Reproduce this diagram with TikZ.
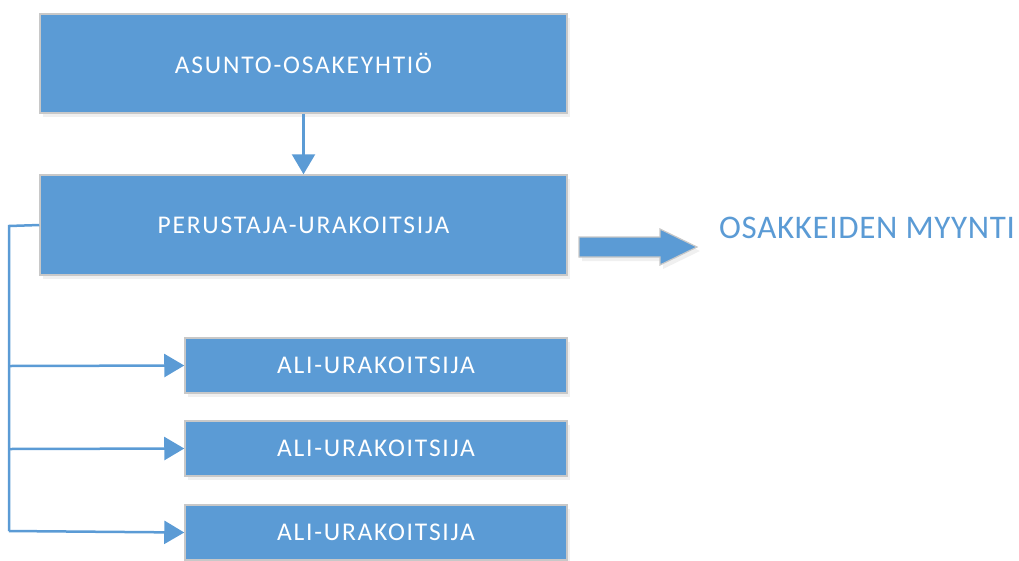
\documentclass[tikz,border=0pt]{standalone}
\usepackage{fontspec}
\setmainfont{Carlito}
\newfontfamily\boxfont[LetterSpace=7]{Carlito}
\newfontfamily\sidefont[LetterSpace=2]{Carlito}
\usetikzlibrary{arrows.meta,shadows}
\definecolor{boxblue}{HTML}{5B9BD5}
\definecolor{boxedge}{HTML}{C8C8C8}
\tikzset{
  box/.style={draw=boxedge, line width=1.5pt, fill=boxblue, text=white, font=\boxfont\fontsize{25.5}{28}\selectfont,
    drop shadow={opacity=0.12, shadow xshift=3pt, shadow yshift=-4pt}, inner sep=0pt},
  conn/.style={draw=boxblue, line width=2.5pt, -{Triangle[length=20pt,width=23pt]}},
  plain/.style={draw=boxblue, line width=2.5pt},
  fatarrow/.style={draw=boxedge, line width=1.2pt, fill=boxblue,
    drop shadow={opacity=0.12, shadow xshift=3pt, shadow yshift=-4pt}},
}
\begin{document}
\begin{tikzpicture}[x=1pt,y=-1pt]
\useasboundingbox (0,0) rectangle (1019,560);
\node[box, minimum width=527pt, minimum height=99pt] (aoy) at (303.5,63.5) {ASUNTO-OSAKEYHTIÖ};
\node[box, minimum width=527pt, minimum height=100pt] (pu) at (303.5,225) {PERUSTAJA-URAKOITSIJA};
\node[box, minimum width=382pt, minimum height=55pt] (a1) at (376,365.5) {ALI-URAKOITSIJA};
\node[box, minimum width=382pt, minimum height=55pt] (a2) at (376,448.5) {ALI-URAKOITSIJA};
\node[box, minimum width=382pt, minimum height=55pt] (a3) at (376,532.5) {ALI-URAKOITSIJA};
\node[text=boxblue, font=\sidefont\fontsize{33}{36}\selectfont, anchor=west, inner sep=0pt] (om) at (719,228) {OSAKKEIDEN MYYNTI};
\coordinate (fa) at (579,227);
\draw[fatarrow] ([yshift=-10pt]fa) -- ++(81,0) -- ++(0,-8) -- ++(37,18) -- ++(-37,18) -- ++(0,-8) -- ++(-81,0) -- cycle;
\draw[conn] (aoy) -- (pu);
\coordinate (corner) at (9,226);
\coordinate (b1) at (9,366);
\coordinate (b2) at (9,449);
\coordinate (b3) at (9,531);
\draw[plain] (pu.west) -- (corner) -- (b3);
\draw[conn] (b1) -- (a1.west);
\draw[conn] (b2) -- (a2.west);
\draw[conn] (b3) -- (a3.west);
\end{tikzpicture}
\end{document}
